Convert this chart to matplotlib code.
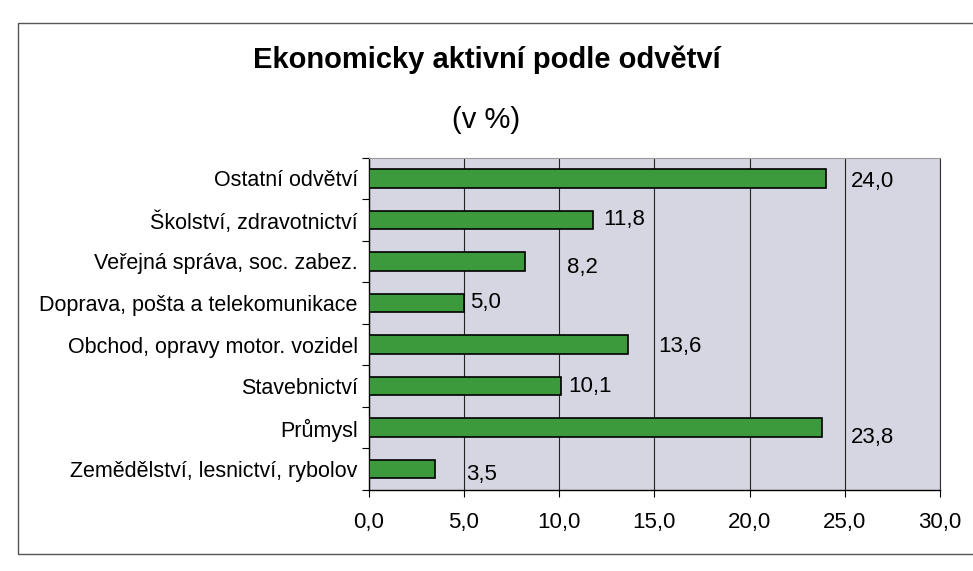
import matplotlib.pyplot as plt
import matplotlib.patches as mpatches

plt.rcParams['font.family'] = ['Liberation Sans', 'DejaVu Sans']

# categories bottom to top
categories = [
    'Zemědělství, lesnictví, rybolov',
    'Průmysl',
    'Stavebnictví',
    'Obchod, opravy motor. vozidel',
    'Doprava, pošta a telekomunikace',
    'Veřejná správa, soc. zabez.',
    'Školství, zdravotnictví',
    'Ostatní odvětví',
]
values = [3.5, 23.8, 10.1, 13.6, 5.0, 8.2, 11.8, 24.0]
# where the value labels sit (x in data units, y offset in category units)
label_x = [5.1, 25.3, 10.5, 15.2, 5.3, 10.4, 12.3, 25.3]
label_dy = [-0.12, -0.25, 0.0, -0.05, 0.0, -0.15, 0.0, -0.07]
xticks = [0, 5, 10, 15, 20, 25, 30]

fig = plt.figure(figsize=(9.73, 5.71), dpi=100)
fig.patch.set_facecolor('white')

# outer chart frame
frame = mpatches.Rectangle((0.019, 0.03), 0.985, 0.93, transform=fig.transFigure,
                           fill=False, edgecolor='#555555', linewidth=1.0)
fig.add_artist(frame)

ax = fig.add_axes([0.379, 0.142, 0.587, 0.582])
ax.set_facecolor('#d6d6e2')

ypos = list(range(len(categories)))
ax.barh(ypos, values, height=0.44, color='#3c9a3c', edgecolor='black',
        linewidth=1.2, zorder=3)

for y, v, lx, dy in zip(ypos, values, label_x, label_dy):
    ax.text(lx, y + dy, f'{v:.1f}'.replace('.', ','), va='center', ha='left',
            fontsize=16, zorder=4)

ax.set_xlim(0, 30)
ax.set_ylim(-0.5, len(categories) - 0.5)
ax.set_xticks(xticks)
ax.set_xticklabels([f'{t:.1f}'.replace('.', ',') for t in xticks], fontsize=16)
ax.set_yticks(ypos)
ax.set_yticklabels(categories, fontsize=15.5)
ax.set_yticks([y + 0.5 for y in ypos[:-1]] + [-0.5, len(categories) - 0.5], minor=True)
ax.tick_params(axis='y', which='major', length=0, pad=8)
ax.tick_params(axis='y', which='minor', length=5, width=0.8, direction='out')
ax.tick_params(axis='x', length=5, width=0.8, direction='out', pad=11)

ax.grid(axis='x', color='#222222', linewidth=0.8, zorder=1)
ax.set_axisbelow(True)
ax.spines['top'].set_color('#999999')
ax.spines['top'].set_linewidth(0.8)
ax.spines['right'].set_color('#333333')
ax.spines['right'].set_linewidth(0.8)
ax.spines['left'].set_linewidth(1.0)
ax.spines['bottom'].set_linewidth(1.0)

fig.text(0.5, 0.895, 'Ekonomicky aktivní podle odvětví', ha='center', va='center',
         fontsize=21, fontweight='bold')
fig.text(0.5, 0.79, '(v %)', ha='center', va='center', fontsize=21)

fig.savefig('out.png', dpi=100)
